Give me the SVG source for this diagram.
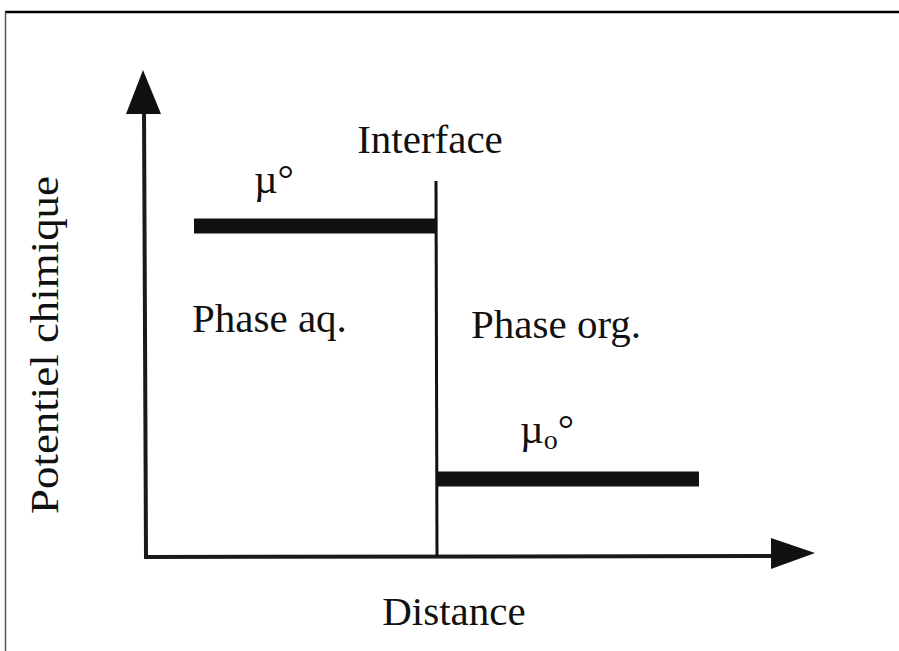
<svg xmlns="http://www.w3.org/2000/svg" width="899" height="651" viewBox="0 0 899 651">
<style>
.t{font-family:"Liberation Serif","Times New Roman",serif;fill:#111;font-size:41px}
.ax{stroke:#1a1a1a;stroke-width:4;fill:none}
.bar{stroke:#111;stroke-width:15;fill:none}
.head{fill:#111}
</style>
<rect width="899" height="651" fill="#fff"/>
<g id="frame">
<line x1="5" y1="12" x2="899" y2="12" stroke="#000" stroke-width="2.5"/>
<line x1="5.5" y1="12" x2="5.5" y2="651" stroke="#555" stroke-width="1.5"/>
</g>
<g id="connectors">
<polyline class="ax" points="144,108 146,557 776,556"/>
<polygon class="head" points="143,70 126,114 161,114"/>
<polygon class="head" points="815,553 771,538 771,569"/>
<line x1="436" y1="181" x2="437" y2="557" stroke="#111" stroke-width="3"/>
</g>
<g id="mu-aq"><line class="bar" x1="194" y1="226" x2="436" y2="226"/></g>
<g id="mu-org"><line class="bar" x1="438" y1="479" x2="699" y2="479"/></g>
<g id="labels">
<text class="t" x="430" y="153" text-anchor="middle">Interface</text>
<text class="t" x="192" y="332">Phase aq.</text>
<text class="t" x="471" y="338">Phase org.</text>
<text class="t" x="454" y="625" text-anchor="middle" font-size="42">Distance</text>
<text class="t" transform="translate(58,345) rotate(-90)" text-anchor="middle" font-size="46" textLength="338" lengthAdjust="spacingAndGlyphs">Potentiel chimique</text>
<text class="t" x="254" y="193">µ°</text>
<text class="t" x="520" y="443">µ<tspan font-size="28" dy="6">o</tspan><tspan dy="-6">°</tspan></text>
</g>
</svg>
